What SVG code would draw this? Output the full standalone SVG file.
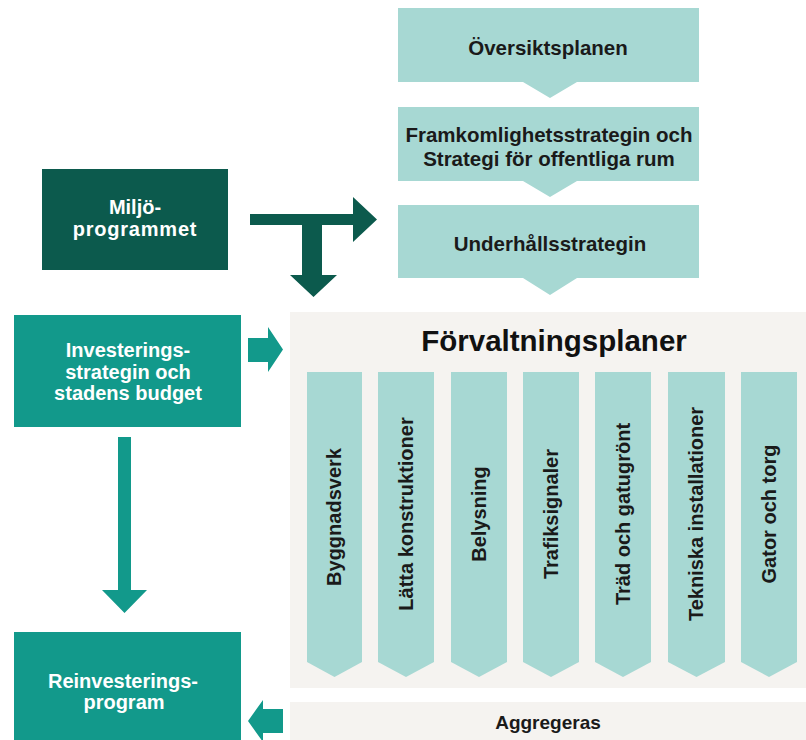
<svg xmlns="http://www.w3.org/2000/svg" width="806" height="740" viewBox="0 0 806 740">
<style>
text{font-family:"Liberation Sans",Arial,sans-serif;font-weight:bold;text-anchor:middle}
.dk{fill:#0c5a4d}
.tl{fill:#12998b}
.lt{fill:#a7d8d3}
.pn{fill:#f5f3f0}
.w{fill:#ffffff;font-size:20px}
.b{fill:#1a1a1a;font-size:20.5px}
.v{fill:#1a1a1a;font-size:20px}
</style>
<rect width="806" height="740" fill="#ffffff"/>
<g id="panel">
<rect class="pn" x="290" y="312" width="516" height="376"/>
<text x="554" y="351" fill="#111" style="font-size:29.5px">Förvaltningsplaner</text>
</g>
<g id="aggregeras">
<rect class="pn" x="290" y="702" width="516" height="38"/>
<text x="548" y="729" class="b" style="font-size:19px">Aggregeras</text>
</g>
<g id="oversiktsplanen">
<polygon class="lt" points="398,8 699,8 699,82 577,82 550,98 523,82 398,82"/>
<text x="548" y="55" class="b">Översiktsplanen</text>
</g>
<g id="framkomlighet">
<polygon class="lt" points="398,107 699,107 699,181 577,181 550,197 523,181 398,181"/>
<text x="549" y="142" class="b">Framkomlighetsstrategin och</text>
<text x="549" y="166" class="b">Strategi för offentliga rum</text>
</g>
<g id="underhall">
<polygon class="lt" points="398,205 699,205 699,278 577,278 550,295 523,278 398,278"/>
<text x="550" y="251" class="b">Underhållsstrategin</text>
</g>
<g id="miljo">
<rect class="dk" x="42" y="169" width="186" height="101"/>
<text x="135" y="214" class="w">Miljö-</text>
<text x="135" y="236" class="w" style="letter-spacing:0.8px">programmet</text>
</g>
<g id="investering">
<rect class="tl" x="14" y="315" width="227" height="112"/>
<text x="128" y="357" class="w">Investerings-</text>
<text x="128" y="379" class="w">strategin och</text>
<text x="128" y="400" class="w">stadens budget</text>
</g>
<g id="reinvestering">
<rect class="tl" x="14" y="632" width="227" height="108"/>
<text x="123" y="688" class="w">Reinvesterings-</text>
<text x="124" y="709" class="w">program</text>
</g>
<g id="categories">
<g id="c1"><polygon class="lt" points="307,372 362,372 362,662 334.5,677 307,662"/><text class="v" transform="translate(341,517) rotate(-90)">Byggnadsverk</text></g>
<g id="c2"><polygon class="lt" points="378,372 434,372 434,662 406,677 378,662"/><text class="v" transform="translate(413,514) rotate(-90)">Lätta konstruktioner</text></g>
<g id="c3"><polygon class="lt" points="451,372 507,372 507,662 479,677 451,662"/><text class="v" transform="translate(486,514) rotate(-90)">Belysning</text></g>
<g id="c4"><polygon class="lt" points="523,372 579,372 579,662 551,677 523,662"/><text class="v" transform="translate(558,514) rotate(-90)">Trafiksignaler</text></g>
<g id="c5"><polygon class="lt" points="595,372 651,372 651,662 623,677 595,662"/><text class="v" transform="translate(630,514) rotate(-90)">Träd och gatugrönt</text></g>
<g id="c6"><polygon class="lt" points="668,372 725,372 725,662 696.5,677 668,662"/><text class="v" transform="translate(703,514) rotate(-90)">Tekniska installationer</text></g>
<g id="c7"><polygon class="lt" points="741,372 797,372 797,662 769,677 741,662"/><text class="v" transform="translate(776,514) rotate(-90)">Gator och torg</text></g>
</g>
<g id="connectors">
<polygon class="dk" points="250,214 353,214 353,197 377,219.5 353,242 353,225 322,225 322,275 337,275 313.5,297 290,275 302,275 302,225 250,225"/>
<polygon class="tl" points="248,338 268,338 268,327 283,349.5 268,372 268,362 248,362"/>
<polygon class="tl" points="118,437 131,437 131,590 147,590 124.5,613 102,590 118,590"/>
<polygon class="tl" points="283,709 263,709 263,700 248,721 263,742 263,733 283,733"/>
</g>
</svg>
